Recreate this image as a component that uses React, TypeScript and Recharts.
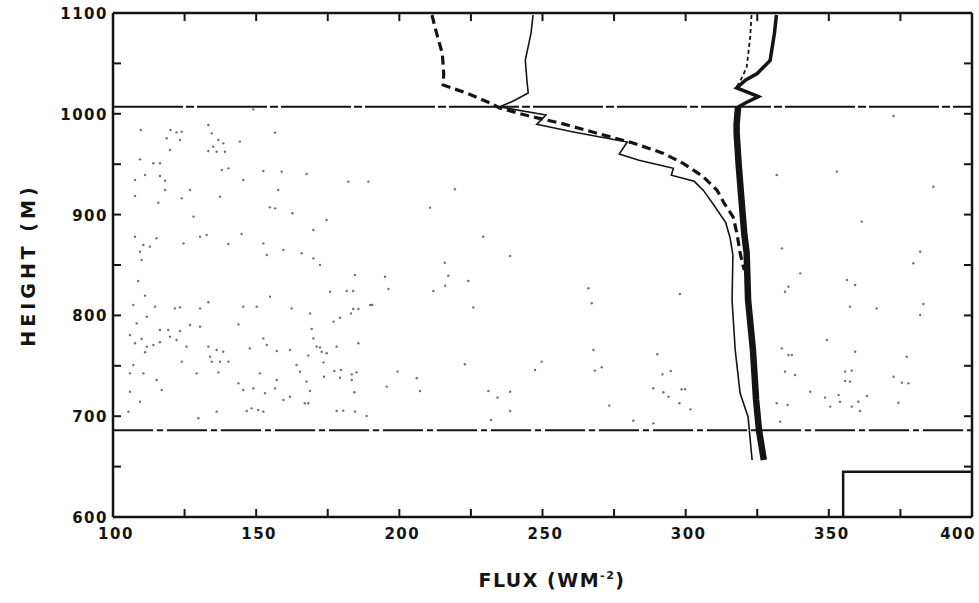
import React from "react";
import {
  ComposedChart,
  Line,
  Scatter,
  XAxis,
  YAxis,
  ReferenceLine,
} from "recharts";

type Pt = [number, number]; // [flux, height]

const xTicks = [100, 125, 150, 175, 200, 225, 250, 275, 300, 325, 350, 375, 400];
const yTicks = [600, 650, 700, 750, 800, 850, 900, 950, 1000, 1050, 1100];
const xDomain: [number, number] = [100, 400];
const yDomain: [number, number] = [600, 1100];

// heights of the two dash-dot level lines
const upperLevel = 1007;
const lowerLevel = 686;

// thick dashed profile
const dashedProfile: Pt[] = [
  [211.4, 1098], [213, 1080], [215, 1060], [215.5, 1040], [215.3, 1028.6],
  [224, 1020], [231.7, 1010.7], [235, 1005.8], [245, 998], [256, 990.9],
  [270, 980], [281.6, 971], [292, 961], [299, 951], [306, 938], [311, 924],
  [313.5, 911], [316.6, 897.6], [318, 880], [319, 862], [320, 850], [320.5, 845],
];

// thin solid profile
const thinProfile: Pt[] = [
  [246.7, 1098], [246, 1080], [244.5, 1060], [244, 1053], [244.5, 1035],
  [245, 1020.6], [240, 1013], [235, 1006.8], [251.2, 998.8], [248, 989.5],
  [260.8, 982], [279.6, 972], [276.8, 960], [283.7, 954],
  [295.7, 946], [295, 939], [303, 933], [306.2, 924],
  [309.7, 910], [314, 892], [315.5, 877], [316.5, 860], [316.2, 815],
  [317.3, 765.7], [319, 723], [321.8, 699.2], [323.2, 656.5],
];

// heavy profile, upper part (thinner) and lower part (heavy)
const heavyTop: Pt[] = [
  [331.7, 1098], [331, 1080], [329.5, 1053], [325, 1040], [321, 1033.5],
  [317.8, 1025.6], [322, 1021], [325.4, 1017], [321, 1011], [318.3, 1006.7],
];
const heavyLow: Pt[] = [
  [318.3, 1006.7], [317.8, 990], [317.8, 981], [318.5, 950], [319.5, 914.5],
  [320.5, 880], [321.3, 862], [321.8, 815.3], [323.5, 765.7], [324.6, 716],
  [325.6, 686.3], [327.3, 656.5],
];

// fine dashed profile next to the heavy one, above the upper level
const fineDashed: Pt[] = [
  [323, 1098], [322.5, 1075], [321.3, 1046], [319.5, 1035], [317.8, 1026.6],
];

// box in the lower right corner
const cornerBox: Pt[] = [[355, 600], [355, 645], [400, 645]];

// stippled background dots
const stipple: Pt[] = [
  [109.7, 984], [120.1, 984], [122.2, 981.6], [124, 982.3], [133.3, 988.9],
  [134.5, 980.6], [118.7, 975.7], [123.4, 974], [136.8, 974], [138.5, 970.7],
  [135, 967.4], [133.3, 963.1], [136.2, 962.4], [139.1, 962.4], [119.9, 964.1],
  [109.4, 954.8], [114.1, 950.9], [116.4, 950.9], [138, 944.2], [140.3, 945.9],
  [152.5, 943.3], [158.9, 942.6], [167.6, 940.3], [116.4, 938.3], [118.2, 933.7],
  [107.7, 934.3], [111.2, 939.3], [145.5, 934.3], [157.7, 924.4], [118.2, 924.4],
  [107.7, 918.5], [115.8, 911.8], [124, 916.1], [137.4, 917.8], [154.8, 907.2],
  [156.6, 906.2], [162.7, 901.3], [128.1, 898], [115.2, 876.5], [107.7, 878.1],
  [110.6, 869.8], [112.9, 868.2], [109.4, 863.2], [124.6, 871.5], [132.7, 879.8],
  [144.9, 880.8], [140.3, 870.8], [152.5, 871.5], [153.7, 859.9], [159.5, 864.9],
  [165.9, 861.6], [110, 855], [149, 1004.4], [156.6, 981.3], [144.3, 972.4],
  [126.9, 924.4], [130.4, 878.1],
  [108.8, 834.1], [111.2, 819.6], [107.1, 810.3], [114.7, 808.7], [121.6, 807],
  [123.4, 808], [130.4, 807], [133.3, 813], [145.5, 808.7], [150.2, 808.7],
  [154.8, 818.6], [162.4, 807], [108.3, 792.1], [111.8, 798.7], [143.8, 791.1],
  [116.4, 785.5], [119.3, 785.5], [123.4, 784.5], [126.9, 790.5], [130.4, 788.8],
  [105.9, 780.6], [107.7, 772.3], [110, 776.6], [111.8, 769], [114.1, 770.6],
  [116.4, 773.3], [119.9, 778.9], [122.2, 775.6], [125.7, 769], [111.2, 763.4],
  [133.3, 769], [136.2, 765.7], [138.5, 764], [133.9, 759.1], [137.4, 754.1],
  [134.5, 754.1], [124, 754.1], [140.3, 754.1], [152.5, 777.2], [153.7, 770.6],
  [157.2, 764.7], [161.8, 765.7], [147.8, 767.3], [107.1, 750.8], [110.6, 742.5],
  [105.9, 742.5], [129.2, 742.5], [136.8, 743.5], [117, 726], [143.8, 732.6],
  [145.5, 726], [149, 727.6], [153.1, 722.7], [156.6, 727.6], [157.2, 735.9],
  [164.1, 750.8], [165.3, 744.2], [151.3, 742.5], [159.5, 716.1], [161.8, 719.4],
  [150.7, 706.1], [152.5, 704.5], [146.7, 705.2], [148.4, 707.8], [109.4, 714.4],
  [105.4, 704.5], [136.2, 704.5], [129.8, 697.9], [115.2, 735.9], [105.9, 724.3],
  [167, 712.8],
  [210.7, 906.9], [174.6, 894.6], [170, 884.7], [182.2, 932.7], [189.2, 932.7],
  [229.3, 878.1], [215.9, 852.3], [172.3, 850], [219.4, 925.1], [170, 856.6],
  [175.8, 823.5], [181.6, 824.2], [183.9, 824.2], [184.5, 840.1], [195, 838.4],
  [196.2, 826.2], [211.9, 824.2], [216, 829.5], [217.1, 839.4], [224.1, 834.1],
  [225.8, 808], [189.8, 810.3], [190.5, 810.3], [183.9, 806.3], [185.7, 806.3],
  [183.1, 802], [179.3, 797.7], [177, 793.8], [169.4, 786.5], [170, 777.2],
  [171.1, 769], [172.3, 768.3], [172.9, 764], [174.6, 762.4], [168.2, 760.1],
  [178.1, 769], [173.5, 753.4], [185.7, 772.3], [177.3, 744.8], [179.6, 745.8],
  [179.3, 738.2], [183.4, 741.5], [183.4, 735.9], [185.1, 743.5], [173.7, 739.2],
  [167.6, 734.3], [168.8, 725], [168.2, 712.8], [184.3, 723.7], [178.1, 705.2],
  [180.4, 705.5], [184.5, 704.5], [188.6, 700.2], [206.1, 737.6], [207.2, 725],
  [199.4, 744.2], [222.9, 751.5], [231.1, 725], [234.3, 718.4], [232, 696.2],
  [168.8, 802], [195.6, 729.3],
  [238.7, 858.9], [266, 826.9], [267.2, 812], [267.8, 765.7], [268.3, 745.2],
  [247.4, 745.8], [249.7, 754.1], [238.7, 724.3], [238.7, 705.2], [273.3, 710.5],
  [281.7, 695.6], [290.1, 761.4], [291.9, 741.5], [294.8, 744.8], [288.7, 727.7],
  [292.2, 723.7], [298.6, 726.7], [299.8, 726.7], [297.8, 712.8], [301.7, 706.8],
  [298, 821.2], [294, 719.4], [288.7, 692.9], [270.7, 748.5],
  [372.6, 997.8], [331.8, 939.3], [352.8, 942.6], [333.6, 866.5], [335.9, 828.5],
  [334.7, 823.5], [359.2, 830.2], [356.3, 835.1], [357.4, 808.7], [366.7, 807],
  [383, 811.3], [381.9, 800.4], [379.5, 851.7], [381.9, 863.2], [386.5, 927.7],
  [340, 841.7], [333.6, 767.3], [335.9, 760.7], [337.1, 760.7], [359.2, 764],
  [377.2, 759.1], [334.7, 744.2], [338.2, 740.9], [355.7, 744.2], [358, 745.2],
  [355.7, 734.9], [357.4, 734.3], [372.6, 739.2], [375.5, 733.3], [377.8, 732.6],
  [343.5, 724.3], [348.7, 718.4], [353.4, 721], [353.9, 714.4], [350.5, 709.5],
  [360.3, 714.4], [360.9, 705.2], [363.3, 720], [358, 709.5], [374.3, 713.4],
  [331.8, 712.8], [335.6, 711.1], [333, 694.6], [349.3, 775.6], [361.5, 893],
];

const toRows = (pts: Pt[]) => pts.map(([flux, h]) => ({ flux, h }));

const INK = "#141414";
const tickFont = {
  fontFamily: "'DejaVu Sans', sans-serif",
  fontWeight: 700,
  fontSize: 15,
  fill: INK,
  letterSpacing: 1.5,
};

function BottomTick(props: any) {
  const { x, y, payload } = props;
  const v = payload.value;
  const labelled = v % 50 === 0;
  const last = v === xDomain[1];
  return (
    <g>
      <line x1={x} y1={y} x2={x} y2={y - 8} stroke={INK} strokeWidth={2} />
      {labelled && (
        <text
          x={last ? x + 4 : x + 3}
          y={y + 22}
          textAnchor={last ? "end" : "middle"}
          style={tickFont}
        >
          {v}
        </text>
      )}
    </g>
  );
}

function LeftTick(props: any) {
  const { x, y, payload } = props;
  const labelled = payload.value % 100 === 0;
  return (
    <g>
      <line x1={x} y1={y} x2={x + 8} y2={y} stroke={INK} strokeWidth={2} />
      {labelled && (
        <text x={x - 5} y={y + 6} textAnchor="end" style={tickFont}>
          {payload.value}
        </text>
      )}
    </g>
  );
}

const Dot = (p: any) => <circle cx={p.cx} cy={p.cy} r={1.2} fill="#333" opacity={0.7} />;

export default function App() {
  const axisLine = { stroke: INK, strokeWidth: 2.5 };
  const ax = { xAxisId: "b", yAxisId: "l" };
  return (
    <div
      style={{
        position: "absolute",
        left: 0,
        top: 0,
        width: 979,
        height: 603,
        background: "#fff",
      }}
    >
      <ComposedChart
        width={979}
        height={603}
        margin={{ top: 13, right: 7, left: 53, bottom: 46 }}
      >
        <XAxis
          xAxisId="b"
          type="number"
          dataKey="flux"
          domain={xDomain}
          ticks={xTicks}
          interval={0}
          allowDataOverflow
          height={40}
          tickSize={0}
          tickMargin={0}
          tickLine={false}
          axisLine={axisLine}
          tick={BottomTick}
        />
        <YAxis
          yAxisId="l"
          type="number"
          dataKey="h"
          domain={yDomain}
          ticks={yTicks}
          interval={0}
          allowDataOverflow
          width={60}
          tickSize={0}
          tickMargin={0}
          tickLine={false}
          axisLine={axisLine}
          tick={LeftTick}
        />
        <Scatter {...ax} data={toRows(stipple)} dataKey="h" shape={Dot} isAnimationActive={false} />
        {/* frame: top and right edges with inward ticks */}
        <ReferenceLine {...ax} y={yDomain[1]} stroke={INK} strokeWidth={2.5} />
        <ReferenceLine {...ax} x={xDomain[1]} stroke={INK} strokeWidth={2.5} />
        {xTicks.slice(1, -1).map((t) => (
          <ReferenceLine
            key={"tx" + t}
            {...ax}
            segment={[{ x: t, y: yDomain[1] }, { x: t, y: yDomain[1] - 8 }]}
            stroke={INK}
            strokeWidth={2}
          />
        ))}
        {yTicks.slice(1, -1).map((t) => (
          <ReferenceLine
            key={"ty" + t}
            {...ax}
            segment={[{ x: xDomain[1], y: t }, { x: xDomain[1] - 2.8, y: t }]}
            stroke={INK}
            strokeWidth={2}
          />
        ))}
        <ReferenceLine
          {...ax}
          y={upperLevel}
          stroke={INK}
          strokeWidth={2}
          strokeDasharray="70 3 8 3"
        />
        <ReferenceLine
          {...ax}
          y={lowerLevel}
          stroke={INK}
          strokeWidth={2}
          strokeDasharray="40 4 6 4"
        />
        <Line {...ax} data={toRows(cornerBox)} dataKey="h" stroke={INK} strokeWidth={2.5} dot={false} isAnimationActive={false} />
        <Line {...ax} data={toRows(thinProfile)} dataKey="h" stroke={INK} strokeWidth={1.6} dot={false} isAnimationActive={false} />
        <Line
          {...ax}
          data={toRows(dashedProfile)}
          dataKey="h"
          stroke={INK}
          strokeWidth={3.2}
          strokeDasharray="9 5"
          dot={false}
          isAnimationActive={false}
        />
        <Line
          {...ax}
          data={toRows(fineDashed)}
          dataKey="h"
          stroke={INK}
          strokeWidth={1.8}
          strokeDasharray="4 3"
          dot={false}
          isAnimationActive={false}
        />
        <Line {...ax} data={toRows(heavyTop)} dataKey="h" stroke={INK} strokeWidth={3.5} dot={false} isAnimationActive={false} />
        <Line {...ax} data={toRows(heavyLow)} dataKey="h" stroke={INK} strokeWidth={6.5} dot={false} isAnimationActive={false} />
      </ComposedChart>
      <div
        style={{
          position: "absolute",
          left: 28,
          top: 265,
          transform: "translate(-50%, -50%) rotate(-90deg)",
          whiteSpace: "nowrap",
          fontFamily: "'DejaVu Sans', sans-serif",
          fontWeight: 700,
          fontSize: 19,
          letterSpacing: 4,
          color: INK,
        }}
      >
        HEIGHT (M)
      </div>
      <div
        style={{
          position: "absolute",
          left: 552,
          top: 580,
          transform: "translate(-50%, -50%)",
          whiteSpace: "nowrap",
          fontFamily: "'DejaVu Sans', sans-serif",
          fontWeight: 700,
          fontSize: 19,
          letterSpacing: 1.5,
          color: INK,
        }}
      >
        FLUX (WM<sup style={{ fontSize: 11, verticalAlign: "8px", lineHeight: 0 }}>-2</sup>)
      </div>
    </div>
  );
}
